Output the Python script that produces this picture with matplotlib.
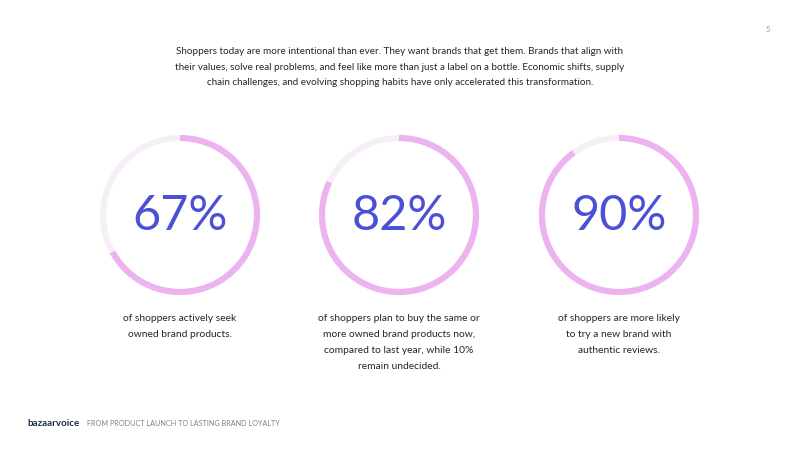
import matplotlib
matplotlib.use('Agg')
import matplotlib.pyplot as plt
from matplotlib.patches import Arc

plt.rcParams['font.family'] = ['Lato', 'DejaVu Sans']

# chart data
percent_values = [67, 82, 90]
percent_labels = ['67%', '82%', '90%']
captions = [
    'of shoppers actively seek\nowned brand products.',
    'of shoppers plan to buy the same or\nmore owned brand products now,\ncompared to last year, while 10%\nremain undecided.',
    'of shoppers are more likely\nto try a new brand with\nauthentic reviews.',
]
intro = ('Shoppers today are more intentional than ever. They want brands that get them. Brands that align with\n'
         'their values, solve real problems, and feel like more than just a label on a bottle. Economic shifts, supply\n'
         'chain challenges, and evolving shopping habits have only accelerated this transformation.')
footer_brand = 'bazaarvoice'
footer_tag = 'FROM PRODUCT LAUNCH TO LASTING BRAND LOYALTY'
page_no = '5'

ring_col = '#edb2f0'
track_col = '#f6eff7'
num_col = '#4b50d4'
text_col = '#262626'

W, H = 800, 449
fig = plt.figure(figsize=(W / 100, H / 100), dpi=100)
ax = fig.add_axes([0, 0, 1, 1])
ax.set_xlim(0, W)
ax.set_ylim(H, 0)
ax.set_aspect('equal')
ax.axis('off')

centers_x = [180, 399, 619]
cy = 215
r = 77

for cx, val, lab, cap in zip(centers_x, percent_values, percent_labels, captions):
    # background track
    ax.add_patch(Arc((cx, cy), 2 * r, 2 * r, theta1=0, theta2=360,
                     color=track_col, lw=4.4))
    # progress arc: starts at 12 o'clock, runs clockwise (y axis is inverted)
    ax.add_patch(Arc((cx, cy), 2 * r, 2 * r, theta1=-90, theta2=-90 + 360 * val / 100,
                     color=ring_col, lw=4.4))
    ax.text(cx, cy + 1, lab, ha='center', va='center', fontsize=35,
            color=num_col, fontweight='normal')
    ax.text(cx, 314, cap, ha='center', va='top', fontsize=7.4,
            color=text_col, linespacing=2.02)

ax.text(400, 67, intro, ha='center', va='center', fontsize=7.1,
        color=text_col, linespacing=1.9)

ax.text(768, 30, page_no, ha='center', va='center', fontsize=5.5, color='#999999')

ax.text(27, 423, footer_brand, ha='left', va='center', fontsize=7,
        color='#1c2b4f', fontweight='bold')
ax.text(87, 423, footer_tag, ha='left', va='center', fontsize=5.2,
        color='#7d828c')

fig.savefig('out.png', dpi=100, facecolor='white')
